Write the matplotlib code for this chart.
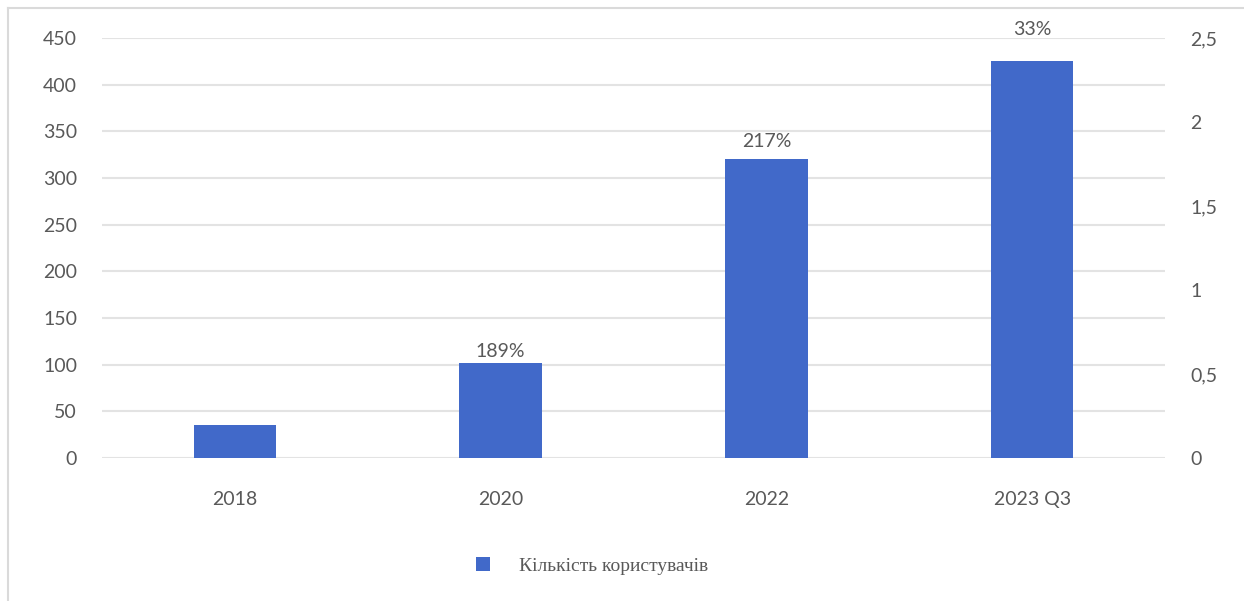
import matplotlib
matplotlib.use("Agg")
import matplotlib.pyplot as plt
from matplotlib.lines import Line2D
from matplotlib.ticker import FuncFormatter

categories = ["2018", "2020", "2022", "2023 Q3"]
users = [35, 102, 320, 425]
growth_labels = ["", "189%", "217%", "33%"]
label_offsets = [0, 2, 7, 17]  # points above bar top

left_ticks = [0, 50, 100, 150, 200, 250, 300, 350, 400, 450]
right_ticks = [0, 0.5, 1, 1.5, 2, 2.5]

bar_color = "#4169C9"
text_color = "#595959"
grid_color = "#E3E3E3"

plt.rcParams["font.family"] = ["Lato", "DejaVu Sans"]

fig = plt.figure(figsize=(12.44, 6.01), dpi=100)
ax = fig.add_axes([102 / 1244, 1 - 458 / 601, 1063 / 1244, 420 / 601])

# outer frame (only top and left edges visible)
fig.add_artist(Line2D([8 / 1244, 1], [1 - 8 / 601] * 2, color="#DADADA", lw=1.5,
                      transform=fig.transFigure))
fig.add_artist(Line2D([8 / 1244] * 2, [0, 1 - 8 / 601], color="#DADADA", lw=1.5,
                      transform=fig.transFigure))

x = range(len(categories))
bars = ax.bar(x, users, width=0.31, color=bar_color, zorder=3,
              label="Кількість користувачів")

for b, lab, off in zip(bars, growth_labels, label_offsets):
    if lab:
        ax.annotate(lab, (b.get_x() + b.get_width() / 2, b.get_height()),
                    xytext=(0, off), textcoords="offset points",
                    ha="center", va="bottom", fontsize=14, color=text_color)

ax.set_xlim(-0.5, 3.5)
ax.set_ylim(0, 450)
ax.set_yticks(left_ticks)
ax.set_xticks(list(x))
ax.set_xticklabels(categories)
ax.grid(axis="y", color=grid_color, lw=1.5, zorder=0)
for s in ax.spines.values():
    s.set_visible(False)
ax.tick_params(axis="both", length=0, labelsize=14, colors=text_color)
ax.tick_params(axis="y", pad=18)
ax.tick_params(axis="x", pad=24)

ax2 = ax.twinx()
ax2.set_ylim(0, 2.5)
ax2.set_yticks(right_ticks)
ax2.yaxis.set_major_formatter(FuncFormatter(lambda v, p: f"{v:g}".replace(".", ",")))
for s in ax2.spines.values():
    s.set_visible(False)
ax2.tick_params(axis="y", length=0, labelsize=14, colors=text_color, pad=18)

fig.legend(handles=[bars], labels=["Кількість користувачів"],
           loc="center", bbox_to_anchor=(592 / 1244, 1 - 566 / 601),
           frameon=False, handlelength=0.75, handleheight=0.75, handletextpad=1.5,
           prop={"family": "Liberation Serif", "size": 14}, labelcolor=text_color)

fig.savefig("out.png", dpi=100, facecolor="white")
